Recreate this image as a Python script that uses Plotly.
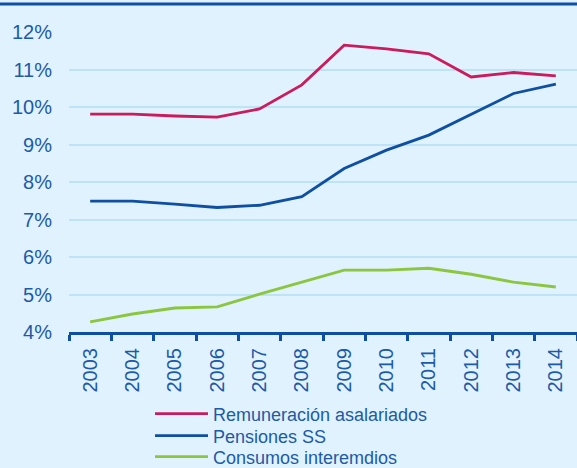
import plotly.graph_objects as go

years = ["2003", "2004", "2005", "2006", "2007", "2008",
         "2009", "2010", "2011", "2012", "2013", "2014"]
remuneracion = [9.81, 9.81, 9.76, 9.73, 9.95, 10.59, 11.65, 11.55, 11.42, 10.80, 10.92, 10.83]
pensiones = [7.49, 7.49, 7.41, 7.32, 7.38, 7.61, 8.36, 8.85, 9.25, 9.80, 10.36, 10.61]
consumos = [4.27, 4.48, 4.64, 4.67, 5.01, 5.32, 5.65, 5.65, 5.70, 5.54, 5.33, 5.20]
y_ticks = [4, 5, 6, 7, 8, 9, 10, 11, 12]
y_labels = [f"{v}%" for v in y_ticks]

series = [
    ("Remuneración asalariados", remuneracion, "#cc1a5c"),
    ("Pensiones SS", pensiones, "#0e4fa4"),
    ("Consumos interemdios", consumos, "#8cc63f"),
]

TEXT = "#1d5aa8"
BG = "#e0f2fd"
DARK = "#0e4fa4"
W, H = 577, 468

fig = go.Figure()
legend_ids = ["legend", "legend2", "legend3"]
legend_rows = [414, 436, 457]
for (name, vals, color), lid in zip(series, legend_ids):
    fig.add_trace(go.Scatter(
        x=years, y=vals, name=name, mode="lines",
        line=dict(color=color, width=2.8),
        legend=lid,
    ))

# one single-entry legend per row so the rows sit 22px apart
legend_layout = {}
for lid, row in zip(legend_ids, legend_rows):
    legend_layout[lid] = dict(
        xref="container", yref="container",
        x=150 / W, xanchor="left",
        y=1 - row / H, yanchor="middle",
        bgcolor="rgba(0,0,0,0)",
        font=dict(size=18, color=TEXT),
        itemwidth=53,
    )

fig.update_layout(
    width=W, height=H,
    margin=dict(l=69, r=0, t=32, b=136, autoexpand=False),
    paper_bgcolor=BG, plot_bgcolor=BG,
    font=dict(family="Liberation Sans, Arial, sans-serif", color=TEXT),
    showlegend=True,
    xaxis=dict(
        type="category", range=[-0.5, 11.5],
        tickson="boundaries", ticks="outside", ticklen=6, tickwidth=3,
        tickcolor=DARK, showline=True, linecolor=DARK, linewidth=3,
        showgrid=False, tickangle=-90, automargin=False,
        tickfont=dict(size=20, color=TEXT),
        ticklabelstandoff=5,
    ),
    yaxis=dict(
        range=[4, 12], tickvals=y_ticks, ticktext=y_labels,
        showgrid=True, gridcolor="#bde3f6", gridwidth=1.5,
        zeroline=False, showline=False, automargin=False,
        tickfont=dict(size=20, color=TEXT),
        ticklabelstandoff=16,
    ),
    shapes=[dict(
        type="line", xref="paper", yref="paper",
        x0=-69 / 508, x1=1, y0=1 + 28 / 300, y1=1 + 28 / 300,
        line=dict(color=DARK, width=3),
    )],
    **legend_layout,
)

fig.write_html("out.html")
